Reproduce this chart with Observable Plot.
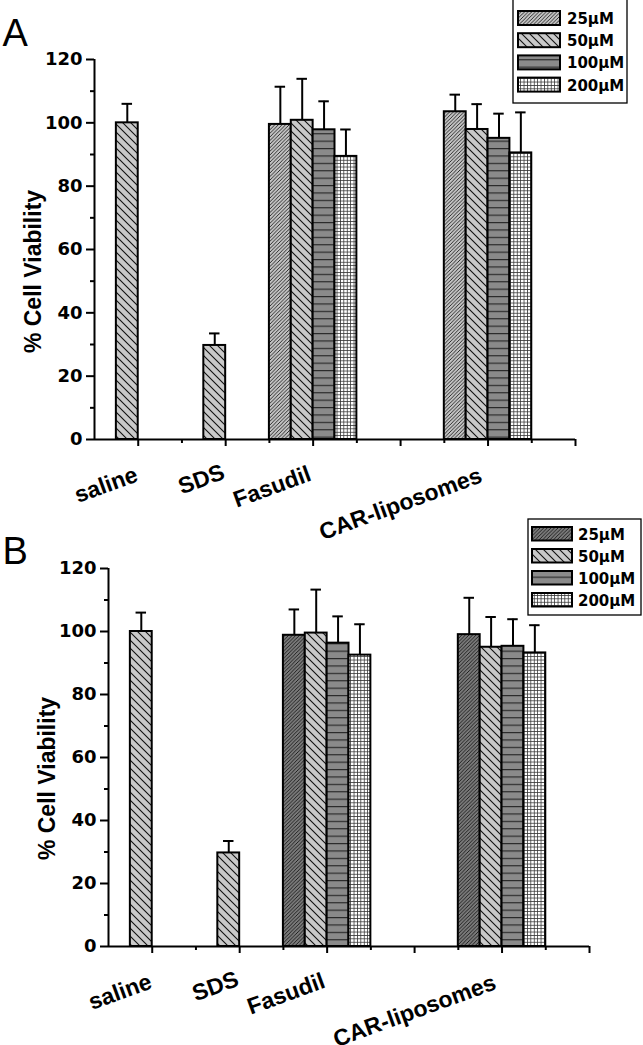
<!DOCTYPE html>
<html><head><meta charset="utf-8">
<script src="https://cdn.jsdelivr.net/npm/d3@7"></script>
<script src="https://cdn.jsdelivr.net/npm/@observablehq/plot@0.6"></script>
<style>
body{margin:0;background:#fff;}
#wrap{position:relative;width:643px;height:1045px;overflow:hidden;background:#fff;}
</style></head><body><div id="wrap"></div>
<script>
// ---- data ----
const groups = ["saline", "SDS", "Fasudil", "CAR-liposomes"];
const concentrations = ["25μM", "50μM", "100μM", "200μM"];
const yTicks = [0, 20, 40, 60, 80, 100, 120];
const yMinorTicks = [10, 30, 50, 70, 90, 110];
const yLabel = "% Cell Viability";
// Panel A
const controlMeanA = [100, 29.7];
const controlErrA = [6.0, 3.8];
const fasudilMeanA = [99.5, 100.8, 97.8, 89.4];
const fasudilErrA = [11.9, 13.1, 9.0, 8.5];
const carMeanA = [103.5, 97.9, 95.1, 90.5];
const carErrA = [5.4, 8.0, 7.8, 12.8];
// Panel B
const controlMeanB = [100, 29.7];
const controlErrB = [6.0, 3.8];
const fasudilMeanB = [98.8, 99.5, 96.3, 92.5];
const fasudilErrB = [8.2, 13.8, 8.5, 9.8];
const carMeanB = [99.0, 95.0, 95.3, 93.2];
const carErrB = [11.7, 9.6, 8.6, 8.8];

// ---- layout (numeric x axis like the original Origin plot) ----
const groupStart = {"saline": 0.5, "SDS": 2.5, "Fasudil": 4, "CAR-liposomes": 8};
const barW = 0.5;
// label centre: x in axis units, drop below the axis in pixels
const labelPos = {"saline": [0.263, 45.5], "SDS": [2.447, 40], "Fasudil": [4.06, 47.5], "CAR-liposomes": [7.0, 64.5]};

function buildRows(pfx, cMean, cErr, fMean, fErr, kMean, kErr) {
  const rows = [];
  [0, 1].forEach(i => {
    const g = groups[i], x1 = groupStart[g];
    rows.push({group: g, x1, x2: x1 + barW, value: cMean[i], err: cErr[i], fill: `url(#${pfx}1)`});
  });
  [[2, fMean, fErr], [3, kMean, kErr]].forEach(([gi, m, e]) => {
    const g = groups[gi];
    concentrations.forEach((c, j) => {
      const x1 = groupStart[g] + j * barW;
      rows.push({group: g, conc: c, x1, x2: x1 + barW, value: m[j], err: e[j], fill: `url(#${pfx}${j})`});
    });
  });
  return rows;
}

function addPatterns(svg, pfx, fill25) {
  const defs = d3.select(svg).insert("defs", ":first-child");
  let p = defs.append("pattern").attr("id", pfx + "0").attr("patternUnits", "userSpaceOnUse").attr("width", 3.6).attr("height", 3.6);
  p.append("rect").attr("width", 3.6).attr("height", 3.6).attr("fill", fill25);
  p.append("path").attr("d", "M-1,1 L1,-1 M0,3.6 L3.6,0 M2.6,4.6 L4.6,2.6").attr("stroke", "#111").attr("stroke-width", 0.85);
  p = defs.append("pattern").attr("id", pfx + "1").attr("patternUnits", "userSpaceOnUse").attr("width", 8).attr("height", 8);
  p.append("rect").attr("width", 8).attr("height", 8).attr("fill", "#c9c9c9");
  p.append("path").attr("d", "M0,0 L8,8 M-1,7 L1,9 M7,-1 L9,1").attr("stroke", "#111").attr("stroke-width", 1.1);
  p = defs.append("pattern").attr("id", pfx + "2").attr("patternUnits", "userSpaceOnUse").attr("width", 8).attr("height", 7.4);
  p.append("rect").attr("width", 8).attr("height", 7.4).attr("fill", "#8a8a8a");
  p.append("path").attr("d", "M0,0.6 L8,0.6").attr("stroke", "#222").attr("stroke-width", 1.1);
  p = defs.append("pattern").attr("id", pfx + "3").attr("patternUnits", "userSpaceOnUse").attr("width", 3.4).attr("height", 3.4);
  p.append("rect").attr("width", 3.4).attr("height", 3.4).attr("fill", "#fff");
  p.append("path").attr("d", "M0,0.4 H3.4 M0.4,0 V3.4").attr("stroke", "#333").attr("stroke-width", 0.8);
}

function drawLegend(svg, pfx, box, sw) {
  const g = d3.select(svg).append("g").attr("text-anchor", "start");
  g.append("rect").attr("x", box.x).attr("y", box.y).attr("width", box.w).attr("height", box.h)
    .attr("fill", "white").attr("stroke", "black").attr("stroke-width", 1.3);
  concentrations.forEach((c, i) => {
    const y = sw.y0 + i * sw.dy;
    g.append("rect").attr("x", sw.x).attr("y", y).attr("width", sw.w).attr("height", sw.h)
      .attr("fill", `url(#${pfx}${i})`).attr("stroke", "black").attr("stroke-width", 2);
    g.append("text").attr("x", sw.tx).attr("y", y + sw.h - 1).text(c).attr("text-anchor", "start")
      .attr("font-family", "DejaVu Sans, Verdana, sans-serif").attr("font-weight", "bold").attr("font-size", 15).attr("fill", "black");
  });
}

// lay the rotated labels out glyph by glyph along the slanted baseline
function slantText(svg) {
  d3.select(svg).selectAll('g[aria-label="category labels"] text').each(function () {
    const m = /translate\(([-\d.e]+),\s*([-\d.e]+)\)\s*rotate\(([-\d.e]+)\)/.exec(this.getAttribute("transform") || "");
    if (!m) return;
    const tx = +m[1], ty = +m[2], deg = +m[3], a = deg * Math.PI / 180;
    this.removeAttribute("transform");
    const n = this.getNumberOfChars();
    const xs = [], ys = [];
    try {
      for (let i = 0; i < n; i++) {
        const p = this.getStartPositionOfChar(i);
        xs.push((tx + p.x * Math.cos(a) - p.y * Math.sin(a)).toFixed(2));
        ys.push((ty + p.x * Math.sin(a) + p.y * Math.cos(a)).toFixed(2));
      }
    } catch (e) {
      this.setAttribute("transform", m[0]);
      return;
    }
    this.setAttribute("text-anchor", "start");
    this.setAttribute("x", xs.join(" "));
    this.setAttribute("y", ys.join(" "));
    this.setAttribute("rotate", new Array(n).fill(deg).join(" "));
  });
}

function makePanel(cfg) {
  const rows = cfg.rows;
  const cx = d => (d.x1 + d.x2) / 2;
  const pxPerUnit = (cfg.height - cfg.mb - cfg.mt) / 120;
  const svg = Plot.plot({
    width: 643, height: cfg.height,
    marginLeft: cfg.ml, marginRight: 643 - cfg.ml - 481, marginTop: cfg.mt, marginBottom: cfg.mb,
    style: {background: "transparent", overflow: "visible", color: "black"},
    x: {domain: [0, 11]},
    y: {domain: [0, 120]},
    color: {type: "identity"},
    marks: [
      Plot.rectY(rows, {x1: "x1", x2: "x2", y1: 0, y2: "value", fill: "fill", stroke: "black", strokeWidth: 2}),
      Plot.ruleX(rows, {x: cx, y1: "value", y2: d => d.value + d.err, stroke: "black", strokeWidth: 2}),
      Plot.ruleY(rows, {y: d => d.value + d.err, x1: d => cx(d) - 0.12, x2: d => cx(d) + 0.12, stroke: "black", strokeWidth: 2}),
      Plot.ruleY([0], {x1: 0, x2: 11, stroke: "black", strokeWidth: 2}),
      Plot.ruleX([0], {y1: 0, y2: 120, stroke: "black", strokeWidth: 2}),
      Plot.axisY({ticks: yTicks, tickSize: 8, tickPadding: 4, label: null, fontSize: 18, fontWeight: "bold",
        fontFamily: "DejaVu Sans, Verdana, sans-serif", strokeWidth: 2}),
      Plot.axisY({ticks: yMinorTicks, tickSize: 4, tickFormat: () => "", label: null, strokeWidth: 2}),
      Plot.axisX({ticks: [1, 3, 5, 7, 9, 11], tickSize: 7, tickFormat: () => "", label: null, strokeWidth: 2}),
      Plot.axisX({ticks: [2, 4, 6, 8, 10], tickSize: 4, tickFormat: () => "", label: null, strokeWidth: 2}),
      Plot.text(groups, {x: d => labelPos[d][0], y: d => -labelPos[d][1] / pxPerUnit, text: d => d, rotate: -20,
        textAnchor: "middle", lineAnchor: "middle", ariaLabel: "category labels",
        fontSize: 23, fontWeight: "bold", fontFamily: "Liberation Sans, Arial, sans-serif", fill: "black"}),
      Plot.text([yLabel], {frameAnchor: "left", dx: cfg.labelX - cfg.ml, dy: cfg.labelDy, rotate: -90, textAnchor: "middle",
        lineAnchor: "middle", fontSize: 23, fontWeight: "bold", fontFamily: "Liberation Sans, Arial, sans-serif", fill: "black"}),
      Plot.text([cfg.letter], {frameAnchor: "top-left", dx: 2 - cfg.ml, dy: cfg.letterY - cfg.mt, textAnchor: "start",
        lineAnchor: "bottom", fontSize: 38, fontFamily: "Liberation Sans, Arial, sans-serif", fill: "black"})
    ]
  });
  addPatterns(svg, cfg.pfx, cfg.fill25);
  drawLegend(svg, cfg.pfx, cfg.box, cfg.sw);
  svg.style.position = "absolute";
  svg.style.left = "0px";
  svg.style.top = cfg.top + "px";
  document.getElementById("wrap").appendChild(svg);
  slantText(svg);
}

makePanel({
  letter: "A", pfx: "pa", fill25: "#c4c4c4", top: 0, height: 545, ml: 94, mt: 59, mb: 545 - 439,
  rows: buildRows("pa", controlMeanA, controlErrA, fasudilMeanA, fasudilErrA, carMeanA, carErrA),
  labelX: 33, labelDy: 22, letterY: 45,
  box: {x: 513, y: -1, w: 114, h: 104},
  sw: {x: 518, w: 42, h: 14, y0: 11, dy: 22.2, tx: 567}
});
makePanel({
  letter: "B", pfx: "pb", fill25: "#7a7a7a", top: 510, height: 535, ml: 108, mt: 58, mb: 535 - 436,
  rows: buildRows("pb", controlMeanB, controlErrB, fasudilMeanB, fasudilErrB, carMeanB, carErrB),
  labelX: 47, labelDy: 21, letterY: 53,
  box: {x: 528, y: 9, w: 113, h: 96},
  sw: {x: 532, w: 40, h: 13.5, y0: 17, dy: 22, tx: 578}
});
</script></body></html>
